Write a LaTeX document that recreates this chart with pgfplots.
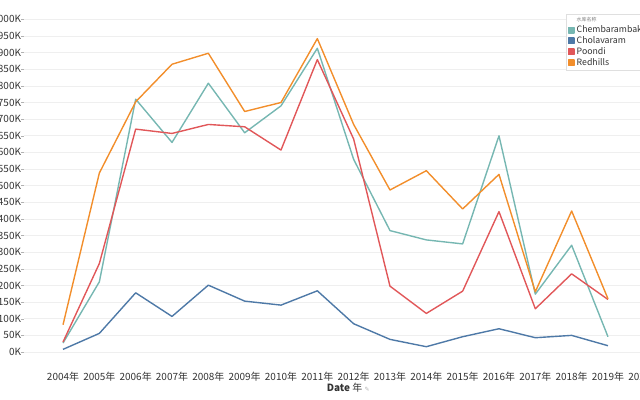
\documentclass[border=0pt]{standalone}
\usepackage{pgfplots}
\pgfplotsset{compat=1.18}
\usepackage{fontspec}
\setmainfont{Noto Sans CJK SC}
\newfontfamily\dejavu{DejaVu Sans}
\definecolor{cteal}{HTML}{76B7B2}
\definecolor{cblue}{HTML}{4E79A7}
\definecolor{cred}{HTML}{E15759}
\definecolor{corange}{HTML}{F28E2B}
\definecolor{txt}{HTML}{333333}
\definecolor{gridc}{HTML}{EFEFEF}
\begin{document}
\begin{tikzpicture}
\begin{axis}[
  at={(24bp,35bp)}, anchor=south west,
  x=36.33bp, y=0.3327bp,
  xmin=2002.926, xmax=2021,
  ymin=-39, ymax=1058,
  axis line style={draw=none},
  /pgf/number format/assume math mode=true,
  /pgf/number format/1000 sep={},
  ytick={0,50,...,1000},
  yticklabel={\pgfmathprintnumber{\tick}K},
  xtick={2004,2005,...,2020},
  xticklabel={\pgfmathprintnumber{\tick}年},
  ymajorgrids, major grid style={gridc, line width=0.6pt},
  tick align=outside,
  x tick style={draw=none},
  y tick style={color=gray!60, line width=0.5pt},
  major tick length=3bp,
  tick label style={font=\fontsize{10}{12}\selectfont, text=txt},
  yticklabel style={xshift=3.5bp},
  xticklabel style={yshift=-1bp},
  xlabel={\textbf{Date} 年 {\dejavu\color{gray!60}\fontsize{6}{6}\selectfont ✎}},
  xlabel style={at={(axis cs:2011.85,-39)}, anchor=north, yshift=-15bp, font=\fontsize{10}{12}\selectfont, text=txt},
  clip=false,
  legend style={at={(axis cs:2017.845,1016)}, anchor=north west,
    draw=gray!25, fill=white, inner sep=1.5pt, row sep=-1.6pt,
    font=\fontsize{8.8}{10}\selectfont, text=txt, cells={anchor=west}},
  legend image code/.code={\fill[#1] (0bp,-2.8bp) rectangle (5.6bp,2.8bp);},
  every axis plot/.append style={line width=1.4pt, line join=round},
]
\addlegendimage{empty legend}
\addlegendentry{\fontsize{5}{6}\selectfont\color{gray}水库名称}
\addplot[color=cteal] coordinates {
(2004,27) (2005,211) (2006,760) (2007,630) (2008,808) (2009,659) (2010,740) (2011,913)
(2012,579) (2013,365) (2014,337) (2015,325) (2016,650) (2017,174) (2018,321) (2019,46)};
\addlegendentry{Chembarambakkam}
\addplot[color=cblue] coordinates {
(2004,8) (2005,56) (2006,178) (2007,107) (2008,201) (2009,153) (2010,141) (2011,184)
(2012,85) (2013,38) (2014,16) (2015,46) (2016,70) (2017,43) (2018,50) (2019,19)};
\addlegendentry{Cholavaram}
\addplot[color=cred] coordinates {
(2004,30) (2005,266) (2006,670) (2007,657) (2008,684) (2009,677) (2010,607) (2011,879)
(2012,640) (2013,198) (2014,116) (2015,183) (2016,422) (2017,130) (2018,235) (2019,158)};
\addlegendentry{Poondi}
\addplot[color=corange] coordinates {
(2004,82) (2005,538) (2006,752) (2007,865) (2008,898) (2009,723) (2010,750) (2011,942)
(2012,684) (2013,487) (2014,545) (2015,430) (2016,534) (2017,181) (2018,424) (2019,160)};
\addlegendentry{Redhills}
\end{axis}
\pgfresetboundingbox
\path[use as bounding box] (0,0) rectangle (640bp,400bp);
\end{tikzpicture}
\end{document}
